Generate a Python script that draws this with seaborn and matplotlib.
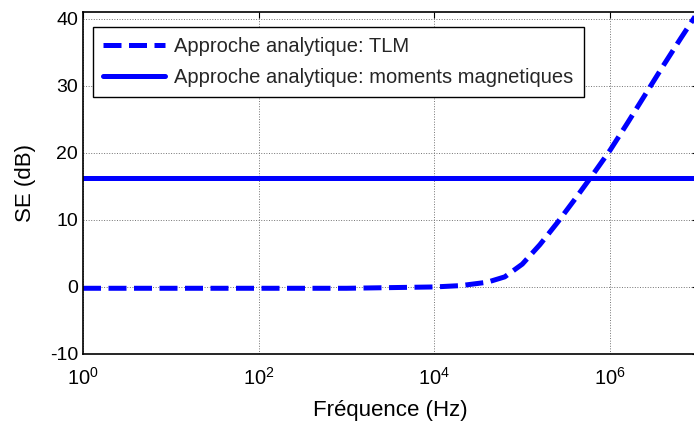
import numpy as np
import pandas as pd
import seaborn as sns
import matplotlib
matplotlib.use("Agg")
import matplotlib.pyplot as plt

# values
log_freq = [0, 1, 2, 3, 3.5, 4, 4.3, 4.6, 4.8, 5.0, 5.2, 5.4, 5.6, 5.8,
            6.0, 6.2, 6.4, 6.6, 6.8, 7.0]
se_tlm = [-0.2, -0.2, -0.2, -0.2, -0.1, 0.0, 0.2, 0.7, 1.5, 3.4, 6.3, 9.6,
          13.1, 16.7, 20.4, 24.5, 28.7, 32.9, 37.0, 41.0]
se_moments = 16.3
freq_span = [1, 1e7]

label_tlm = "Approche analytique: TLM"
label_mom = "Approche analytique: moments magnetiques"

df = pd.concat([
    pd.DataFrame({"f": np.power(10.0, log_freq), "se": se_tlm, "serie": label_tlm}),
    pd.DataFrame({"f": freq_span, "se": [se_moments] * 2, "serie": label_mom}),
])

sns.set_style("white")
plt.rcParams["font.family"] = ["Liberation Sans", "DejaVu Sans"]
plt.rcParams["mathtext.fontset"] = "custom"
plt.rcParams["mathtext.rm"] = "Liberation Sans"
plt.rcParams["axes.unicode_minus"] = False

fig = plt.figure(figsize=(6.94, 4.25), dpi=100)
ax = fig.add_axes([83 / 694, 71 / 425, 615 / 694, 342 / 425])

sns.lineplot(data=df, x="f", y="se", hue="serie", style="serie",
             palette=["#0000ff", "#0000ff"],
             dashes={label_tlm: (3.6, 1.5), label_mom: ""},
             linewidth=3.6, ax=ax)
for ln in ax.lines:
    ln.set_dash_capstyle("butt")

ax.set_xscale("log")
ax.set_xlim(1, 1e7)
ax.set_ylim(-10, 41)
ax.set_xticks([1, 1e2, 1e4, 1e6])
ax.set_xticklabels([r"$\mathregular{10^{0}}$", r"$\mathregular{10^{2}}$",
                    r"$\mathregular{10^{4}}$", r"$\mathregular{10^{6}}$"])
ax.xaxis.set_minor_locator(matplotlib.ticker.NullLocator())
ax.set_yticks([-10, 0, 10, 20, 30, 40])
ax.tick_params(direction="in", length=4, width=0.8, labelsize=14,
               top=True, right=True, colors="black")
ax.tick_params(axis="x", pad=9, labelsize=14.5)
ax.grid(True, linestyle=":", color="0.45", linewidth=0.7)
for s in ax.spines.values():
    s.set_color("black")
    s.set_linewidth(1.2)

ax.set_xlabel("Fréquence (Hz)", fontsize=16, color="black", labelpad=8)
ax.set_ylabel("SE (dB)", fontsize=16, color="black", labelpad=10)

leg = ax.legend(loc="upper left", bbox_to_anchor=(0.016, 0.956),
                borderaxespad=0, fontsize=14.5, handlelength=3.1,
                handletextpad=0.45, fancybox=False, framealpha=1,
                edgecolor="black", labelspacing=0.6, borderpad=0.5)
leg.get_frame().set_linewidth(1.0)
for h in leg.get_lines():
    h.set_linewidth(3.6)

fig.savefig("out.png", dpi=100)
